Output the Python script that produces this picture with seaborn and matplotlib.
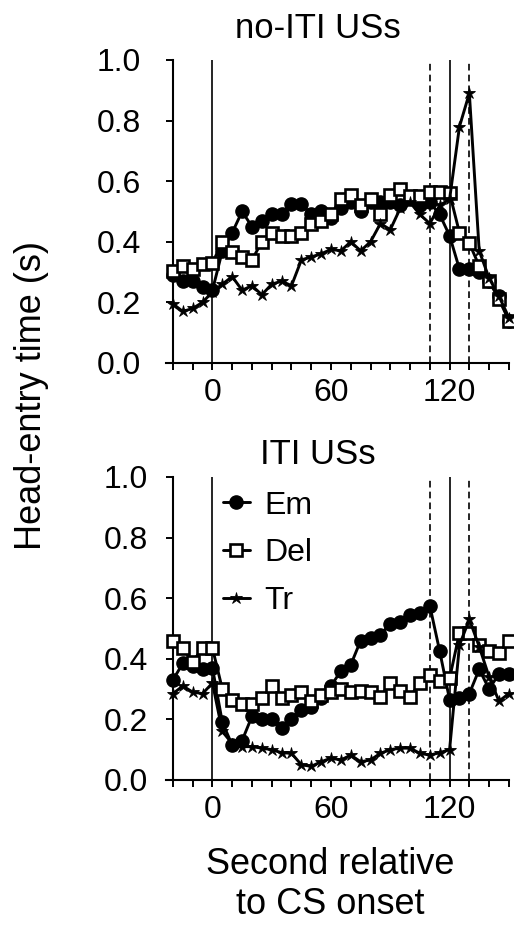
import numpy as np
import pandas as pd
import matplotlib
matplotlib.use("Agg")
import matplotlib.pyplot as plt
from matplotlib.ticker import FixedLocator, MultipleLocator, FormatStrFormatter
import seaborn as sns

# =========================================================
# DATA
# =========================================================

seconds = list(range(-20, 151, 5))

# no-ITI USs
em_no_iti = [0.29, 0.27, 0.27, 0.25, 0.24, 0.37, 0.43, 0.50, 0.45, 0.47,
             0.49, 0.49, 0.525, 0.525, 0.49, 0.50, 0.48, 0.51, 0.53, 0.50,
             0.53, 0.53, 0.53, 0.52, 0.54, 0.52, 0.53, 0.49, 0.42, 0.31,
             0.31, 0.30, 0.27, 0.22, 0.14]
del_no_iti = [0.305, 0.32, 0.31, 0.325, 0.33, 0.40, 0.365, 0.35, 0.34, 0.40,
              0.43, 0.42, 0.42, 0.43, 0.46, 0.47, 0.49, 0.54, 0.555, 0.52,
              0.54, 0.49, 0.555, 0.575, 0.55, 0.55, 0.565, 0.565, 0.56, 0.43,
              0.395, 0.32, 0.27, 0.21, 0.14]
tr_no_iti = [0.195, 0.17, 0.18, 0.20, 0.235, 0.26, 0.285, 0.24, 0.255, 0.225,
             0.26, 0.27, 0.255, 0.34, 0.35, 0.36, 0.375, 0.37, 0.40, 0.37,
             0.40, 0.46, 0.44, 0.51, 0.53, 0.49, 0.46, 0.52, 0.54, 0.78,
             0.89, 0.37, 0.28, 0.22, 0.15]

# ITI USs
em_iti = [0.33, 0.385, 0.375, 0.365, 0.37, 0.19, 0.115, 0.13, 0.21, 0.20,
          0.20, 0.17, 0.20, 0.23, 0.24, 0.27, 0.31, 0.36, 0.38, 0.46,
          0.47, 0.48, 0.515, 0.52, 0.545, 0.55, 0.575, 0.425, 0.265, 0.27,
          0.285, 0.365, 0.30, 0.35, 0.35]
del_iti = [0.46, 0.435, 0.39, 0.435, 0.435, 0.30, 0.265, 0.25, 0.25, 0.27,
           0.31, 0.27, 0.28, 0.29, 0.26, 0.28, 0.29, 0.30, 0.29, 0.295,
           0.29, 0.275, 0.32, 0.295, 0.275, 0.32, 0.345, 0.325, 0.335, 0.485,
           0.485, 0.445, 0.425, 0.42, 0.46]
tr_iti = [0.285, 0.31, 0.29, 0.285, 0.32, 0.16, 0.12, 0.11, 0.11, 0.105,
          0.10, 0.09, 0.088, 0.05, 0.045, 0.06, 0.072, 0.066, 0.082, 0.06,
          0.066, 0.088, 0.10, 0.105, 0.105, 0.088, 0.082, 0.09, 0.10, 0.445,
          0.53, 0.44, 0.34, 0.26, 0.285]

groups = ["Em", "Del", "Tr"]
solid_lines = [0, 120]
dashed_lines = [110, 130]
y_ticks = [0.0, 0.2, 0.4, 0.6, 0.8, 1.0]
x_major = [0, 60, 120]


# =========================================================
# STYLE
# =========================================================

sns.set_style("ticks")
plt.rcParams["font.family"] = ["Liberation Sans", "DejaVu Sans"]
for key in ["text.color", "axes.labelcolor", "xtick.color",
            "ytick.color", "axes.edgecolor"]:
    plt.rcParams[key] = "black"

marker_style = {
    "Em": dict(marker="o", markersize=9.5, markerfacecolor="black",
               markeredgecolor="black", markeredgewidth=1.0),
    "Del": dict(marker="s", markersize=8.5, markerfacecolor="white",
                markeredgecolor="black", markeredgewidth=1.9),
    "Tr": dict(marker="*", markersize=9, markerfacecolor="black",
               markeredgecolor="black", markeredgewidth=0.6),
}


def draw_panel(ax, values, title, title_pad, ylab_pad, legend=False):

    df = pd.DataFrame({"sec": seconds})
    for g, v in zip(groups, values):
        df[g] = v

    for xv in solid_lines:
        ax.axvline(xv, color="black", lw=1.2, zorder=1)
    for xv in dashed_lines:
        ax.axvline(xv, color="black", lw=1.2, ls=(0, (4, 2.5)), zorder=1)

    for g in groups:
        sns.lineplot(
            data=df, x="sec", y=g, ax=ax,
            color="black", lw=2.1, label=g,
            clip_on=False, zorder=3,
            **marker_style[g]
        )

    ax.set_xlim(-23.5, 150)
    ax.set_ylim(0, 1.0)

    ax.spines["left"].set_position(("data", -20))
    ax.spines["right"].set_visible(False)
    ax.spines["top"].set_visible(False)
    for s in ["left", "bottom"]:
        ax.spines[s].set_linewidth(1.5)

    ax.xaxis.set_major_locator(FixedLocator(x_major))
    ax.xaxis.set_minor_locator(MultipleLocator(10))
    ax.yaxis.set_major_locator(FixedLocator(y_ticks))
    ax.yaxis.set_major_formatter(FormatStrFormatter("%.1f"))

    ax.tick_params(axis="x", which="both", direction="out",
                   length=5, width=1.4, labelsize=23, pad=6)
    ax.tick_params(axis="y", direction="out",
                   length=5, width=1.4, labelsize=23, pad=ylab_pad)

    ax.set_xlabel("")
    ax.set_ylabel("")
    ax.set_title(title, fontsize=25, pad=title_pad, x=0.443)

    if legend:
        ax.legend(
            loc="upper left", bbox_to_anchor=(0.165, 0.955),
            frameon=False, fontsize=23, handlelength=0.85,
            handletextpad=0.45, labelspacing=0.55,
            borderpad=0, borderaxespad=0
        )
    else:
        ax.get_legend().remove()


# =========================================================
# FIGURE
# =========================================================

fig = plt.figure(figsize=(5.14, 9.25), dpi=100)

ax_top = fig.add_axes([0.323, 0.6076, 0.667, 0.3276])
ax_bot = fig.add_axes([0.323, 0.1568, 0.667, 0.3276])

draw_panel(ax_top, [em_no_iti, del_no_iti, tr_no_iti],
           "no-ITI USs", 16, 18)
draw_panel(ax_bot, [em_iti, del_iti, tr_iti],
           "ITI USs", 9, 13, legend=True)

ax_bot.set_xlabel("Second relative\nto CS onset", fontsize=26,
                  linespacing=1.2)
ax_bot.xaxis.set_label_coords(0.478, -0.22, transform=ax_bot.transAxes)
ax_bot.xaxis.label.set_va("top")

fig.text(32 / 514, 1 - 395 / 925, "Head-entry time (s)",
         rotation=90, ha="center", va="center", fontsize=26)

fig.savefig("out.png", dpi=100)
